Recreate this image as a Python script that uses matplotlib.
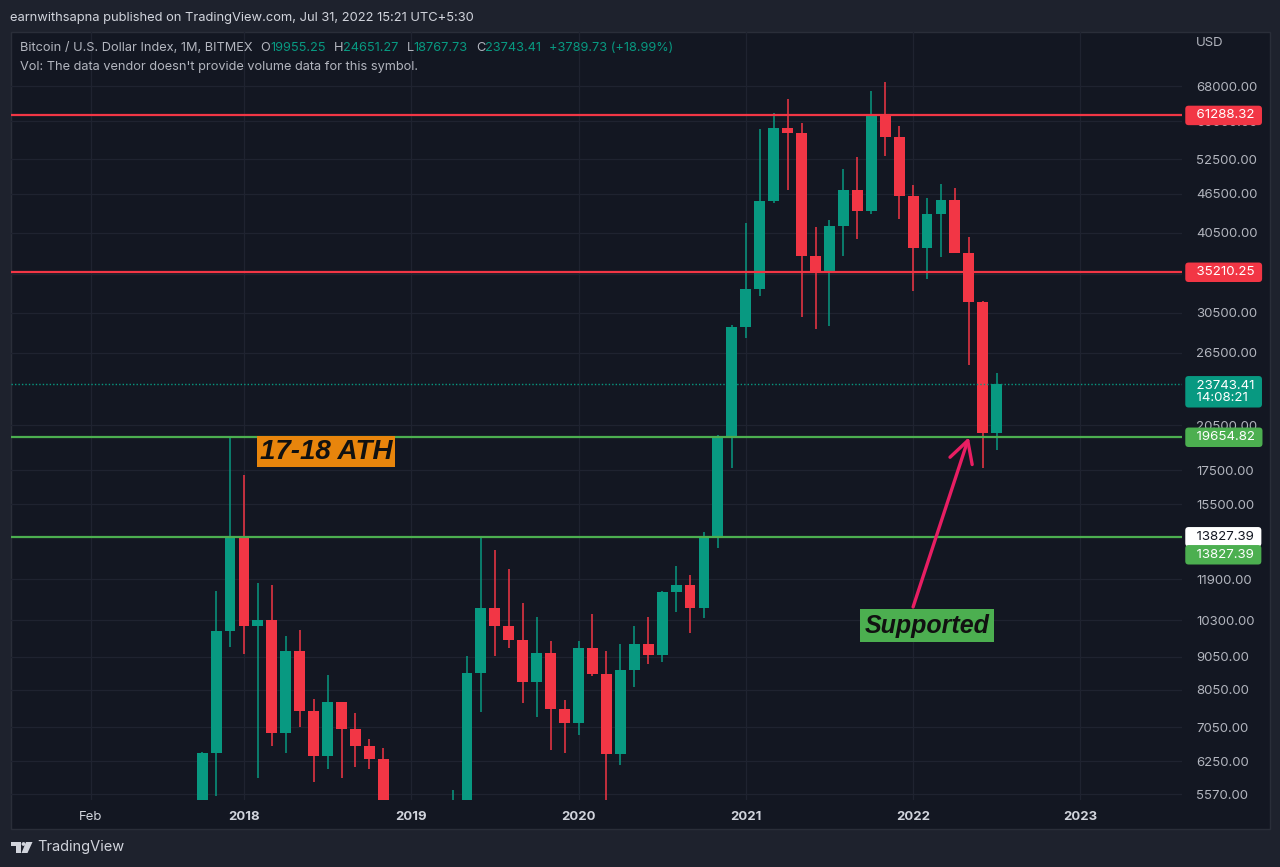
import matplotlib
matplotlib.use("Agg")
import matplotlib.pyplot as plt
import matplotlib.transforms as mtransforms
from matplotlib.patches import Rectangle, Polygon, Circle
from matplotlib.ticker import FixedLocator, FixedFormatter, NullLocator

# ---------------- data (monthly BTC index, month 0 = Jan 2018) ----------------
month_index = list(range(-3, 55))  # Oct 2017 ... Jul 2022
opens = [4360, 6450, 9912, 13830, 10100, 10300, 6900, 9235, 7470, 6380,
         7710, 7015, 6610, 6300, 4000, 3700, 3450, 3820, 4100, 5300,
         8555, 10750, 10090, 9600, 8290, 9160, 7535, 7168, 9335, 8515,
         6410, 8636, 9455, 9113, 11364, 11660, 10763, 13805, 19690, 28990,
         33150, 45250, 58680, 57660, 37290, 35080, 41460, 47080, 43720, 61380,
         56850, 46150, 38400, 43210, 45450, 37650, 31730, 19955.25]
highs = [6470, 11420, 19700, 17200, 11740, 11670, 9740, 9950, 7790, 8485,
         7720, 7410, 6760, 6550, 4200, 4100, 4200, 4100, 5650, 9070,
         13805, 13195, 12322, 10955, 10400, 9565, 7765, 9565, 10513, 9235,
         9465, 10090, 10424, 11400, 12487, 12077, 14080, 19800, 29200, 41950,
         58350, 61880, 64940, 59600, 41360, 42350, 50660, 52970, 66880, 69040,
         59040, 47930, 45730, 48050, 47470, 39920, 31800, 24651.27]
lows = [4100, 5535, 9380, 9130, 5900, 6600, 6450, 7050, 5810, 6085,
        5890, 6125, 6085, 3500, 3150, 3400, 3400, 3700, 4050, 5300,
        7455, 9070, 9343, 7690, 7305, 6505, 6432, 6860, 8440, 3850,
        6173, 8140, 8820, 8893, 10608, 9833, 10390, 13290, 17612, 27880,
        32375, 45000, 47080, 30030, 28780, 29120, 37290, 39560, 43300, 53100,
        42460, 32990, 34340, 37120, 37650, 25370, 17610, 18767.73]
closes = [6450, 9912, 13830, 10100, 10300, 6900, 9235, 7470, 6380, 7710,
          7015, 6610, 6300, 4000, 3700, 3450, 3820, 4100, 5300, 8555,
          10750, 10090, 9600, 8290, 9160, 7535, 7168, 9335, 8515, 6410,
          8636, 9455, 9113, 11364, 11660, 10763, 13805, 19690, 28990, 33150,
          45250, 58680, 57660, 37290, 35080, 41460, 47080, 43720, 61380, 56850,
          46150, 38400, 43210, 45450, 37650, 31730, 19930, 23743.41]

resistance_levels = [61288.32, 35210.25]
support_levels = [19654.82, 13827.39]
last_price = 23743.41
countdown = "14:08:21"

price_ticks = [68000, 60000, 52500, 46500, 40500, 35000, 30500, 26500, 20500,
               17500, 15500, 11900, 10300, 9050, 8050, 7050, 6250, 5570]
time_tick_pos = [-11, 0, 12, 24, 36, 48, 60]
time_tick_labels = ["Feb", "2018", "2019", "2020", "2021", "2022", "2023"]

header = "earnwithsapna published on TradingView.com, Jul 31, 2022 15:21 UTC+5:30"
symbol_title = "Bitcoin / U.S. Dollar Index, 1M, BITMEX"
ohlc_pairs = [("O", "19955.25"), ("H", "24651.27"), ("L", "18767.73"), ("C", "23743.41")]
change_text = "+3789.73 (+18.99%)"
vol_text = "Vol: The data vendor doesn't provide volume data for this symbol."

ath_label = ("17-18 ATH", 5.9, 18690)
support_label = ("Supported", 49.0, 10090)
arrow_tip = (52.0, 19654.82)
arrow_tail = (48.0, 10790)

# ---------------- style ----------------
plt.rcParams["font.family"] = ["Inter", "DejaVu Sans"]
UP = "#089981"
DOWN = "#f23645"
LINE_RED = "#f23645"
LINE_GREEN = "#4caf50"
BG_OUT = "#1e222d"
BG_IN = "#131722"
GRID = "#1f2330"
TXT = "#b2b5be"
TXT2 = "#d1d4dc"

W, H = 1280, 867
fig = plt.figure(figsize=(W / 100, H / 100), dpi=100, facecolor=BG_OUT)

# pixel transform for decorations
pix = mtransforms.Affine2D().scale(1 / W, -1 / H).translate(0, 1) + fig.transFigure

fig.patches.append(Rectangle((11, 32), 1259, 797, transform=pix, facecolor=BG_IN,
                             edgecolor="#2a2e39", lw=1, zorder=-5))

ax_l, ax_r, ax_t, ax_b = 11, 1182, 32, 800
ax = fig.add_axes([ax_l / W, 1 - ax_b / H, (ax_r - ax_l) / W, (ax_b - ax_t) / H])
ax.set_zorder(1)
ax.set_facecolor("none")
for s in ax.spines.values():
    s.set_visible(False)

ax.set_yscale("log")
ax.set_ylim(5455, 82300)
ax.set_xlim(-16.71, 67.29)

ax.yaxis.tick_right()
ax.yaxis.set_major_locator(FixedLocator(price_ticks))
ax.yaxis.set_major_formatter(FixedFormatter([f"{v:.2f}" for v in price_ticks]))
ax.yaxis.set_minor_locator(NullLocator())
ax.tick_params(axis="y", length=0, pad=10, labelsize=9.5, labelcolor=TXT)

ax.set_xticks(time_tick_pos)
ax.set_xticklabels(time_tick_labels)
ax.tick_params(axis="x", length=0, pad=8, labelsize=9.5, labelcolor=TXT2)
for lab in ax.get_xticklabels():
    if lab.get_text().isdigit():
        lab.set_fontweight("bold")

ax.grid(True, color=GRID, lw=0.9, zorder=0)
ax.set_axisbelow(True)

# ---------------- candles ----------------
colors = [UP if c >= o else DOWN for o, c in zip(opens, closes)]
bottoms = [min(o, c) for o, c in zip(opens, closes)]
heights = [abs(c - o) for o, c in zip(opens, closes)]
ax.vlines(month_index, lows, highs, colors=colors, lw=1.1, zorder=3)
ax.bar(month_index, heights, bottom=bottoms, width=0.78, color=colors,
       linewidth=0, zorder=4)

# ---------------- horizontal levels ----------------
for lv in resistance_levels:
    ax.axhline(lv, color=LINE_RED, lw=1.6, zorder=5)
for lv in support_levels:
    ax.axhline(lv, color=LINE_GREEN, lw=1.6, zorder=5)
ax.axhline(last_price, color=UP, lw=1.0, ls=(0, (1, 1.5)), zorder=5)

# ---------------- price axis labels ----------------
blend = mtransforms.blended_transform_factory(ax.transAxes, ax.transData)


def price_box(price, text, fc, tc, dy=0):
    ax.annotate(text, xy=(1.0, price), xycoords=blend, xytext=(7, dy),
                textcoords="offset pixels", ha="left", va="center",
                fontsize=9.6, color=tc, annotation_clip=False, zorder=10,
                linespacing=1.0,
                bbox=dict(boxstyle="round,pad=0.28,rounding_size=0.25", fc=fc, ec="none"))


for lv in resistance_levels:
    price_box(lv, f"  {lv:.2f} ", LINE_RED, "white")
price_box(last_price, f"  {last_price:.2f} \n  {countdown} ", UP, "white", dy=-8)
price_box(support_levels[0], f"  {support_levels[0]:.2f} ", LINE_GREEN, "white")
price_box(support_levels[1], f"  {support_levels[1]:.2f} ", "white", "#131722")
price_box(support_levels[1], f"  {support_levels[1]:.2f} ", LINE_GREEN, "white", dy=-18)

# ---------------- annotations ----------------
ax.text(ath_label[1], ath_label[2], ath_label[0], ha="center", va="center",
        fontsize=20, fontweight="bold", fontstyle="italic",
        family=["Liberation Sans", "DejaVu Sans"], color="#111111", zorder=8,
        bbox=dict(boxstyle="square,pad=0.1", fc="#e8850c", ec="none"))
ax.text(support_label[1], support_label[2], support_label[0], ha="center", va="center",
        fontsize=18, fontweight="bold", fontstyle="italic",
        family=["Liberation Sans", "DejaVu Sans"], color="#111111", zorder=8,
        bbox=dict(boxstyle="square,pad=0.18", fc="#4caf50", ec="none"))
ax.annotate("", xy=arrow_tip, xytext=arrow_tail, zorder=9,
            arrowprops=dict(arrowstyle="->,head_length=0.55,head_width=0.3",
                            color="#e91e63", lw=2.4, mutation_scale=28,
                            shrinkA=0, shrinkB=0))

# ---------------- header / legend texts ----------------
fig.text(10 / W, 1 - 18 / H, header, fontsize=9.3, color=TXT2, va="center", ha="left")
fig.text(1196 / W, 1 - 43 / H, "USD", fontsize=9.5, color=TXT, va="center", ha="left")

t = ax.text((20 - ax_l) / (ax_r - ax_l), 1 - (48 - ax_t) / (ax_b - ax_t),
            symbol_title, transform=ax.transAxes, fontsize=9.2, color=TXT,
            va="center", ha="left", zorder=10)
prev = t
for k, v in ohlc_pairs:
    a = ax.annotate(k, xy=(1, 0), xycoords=prev, xytext=(8, 0),
                    textcoords="offset pixels", fontsize=9.2, color=TXT,
                    va="bottom", ha="left", annotation_clip=False)
    b = ax.annotate(v, xy=(1, 0), xycoords=a, xytext=(0, 0),
                    textcoords="offset pixels", fontsize=9.2, color=UP,
                    va="bottom", ha="left", annotation_clip=False)
    prev = b
ax.annotate(change_text, xy=(1, 0), xycoords=prev, xytext=(8, 0),
            textcoords="offset pixels", fontsize=9.2, color=UP,
            va="bottom", ha="left", annotation_clip=False)
ax.text((20 - ax_l) / (ax_r - ax_l), 1 - (67 - ax_t) / (ax_b - ax_t), vol_text,
        transform=ax.transAxes, fontsize=9.2, color=TXT, va="center", ha="left", zorder=10)

# ---------------- footer logo ----------------
logo_c = TXT2
fig.patches.append(Polygon([(11, 842), (21, 842), (21, 853), (16, 853), (16, 846), (11, 846)],
                           closed=True, transform=pix, fc=logo_c, ec="none"))
fig.patches.append(Circle((23.5, 844), 1.9, transform=pix, fc=logo_c, ec="none"))
fig.patches.append(Polygon([(26, 842), (32.5, 842), (27.5, 853), (21.5, 853)],
                           closed=True, transform=pix, fc=logo_c, ec="none"))
fig.text(37 / W, 1 - 847 / H, "TradingView", fontsize=10.5, color=TXT2, va="center", ha="left")

fig.savefig("out.png", dpi=100, facecolor=BG_OUT)
